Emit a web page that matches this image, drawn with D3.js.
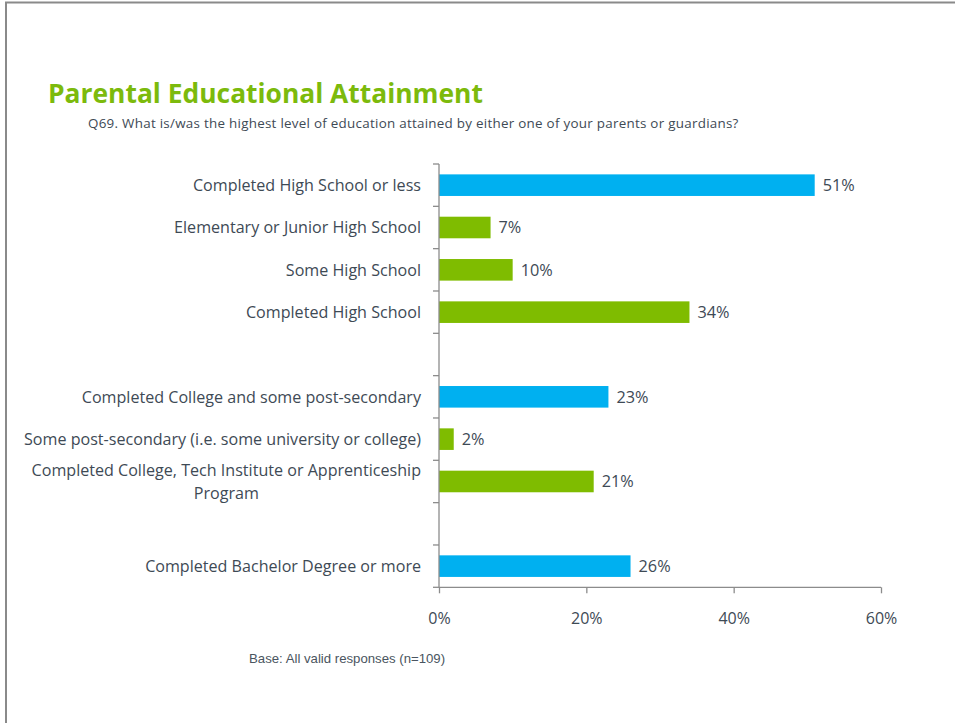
<!DOCTYPE html>
<html><head><meta charset="utf-8">
<script src="https://cdn.jsdelivr.net/npm/d3@7"></script>
<style>
body{margin:0;background:#fff;}
svg{display:block;}
</style></head>
<body>
<svg id="chart" width="955" height="723"></svg>
<script>
const categories = [
  "Completed High School or less",
  "Elementary or Junior High School",
  "Some High School",
  "Completed High School",
  "",
  "Completed College and some post-secondary",
  "Some post-secondary (i.e. some university or college)",
  "Completed College, Tech Institute or Apprenticeship|Program",
  " ",
  "Completed Bachelor Degree or more"
];
const values = [51, 7, 10, 34, null, 23, 2, 21, null, 26];
const isSummary = [true, false, false, false, false, true, false, false, false, true];
const tickValues = [0, 20, 40, 60];

const svg = d3.select("#chart");
const colors = {blue:"#00b0f0", green:"#7fbc00", axis:"#8c8c8c", text:"#3e4a55"};
const labelSize = 16.1;

// frame
svg.append("line").attr("x1",5).attr("x2",955).attr("y1",2.5).attr("y2",2.5).attr("stroke","#8a8a8a").attr("stroke-width",2);
svg.append("line").attr("x1",6).attr("x2",6).attr("y1",2).attr("y2",723).attr("stroke","#8a8a8a").attr("stroke-width",2);

svg.append("text").attr("x",48).attr("y",103)
  .attr("font-family","Open Sans").attr("font-weight","bold").attr("font-size",26.4)
  .attr("fill","#7cba0c").text("Parental Educational Attainment");
svg.append("text").attr("x",88).attr("y",128)
  .attr("font-family","Open Sans").attr("font-size",13.4).attr("letter-spacing",0.27)
  .attr("fill","#3e4a55").text("Q69. What is/was the highest level of education attained by either one of your parents or guardians?");

const x = d3.scaleLinear().domain([0,60]).range([439,881]);
const y = d3.scaleBand().domain(categories).range([164,587.3]).paddingInner(0.49).paddingOuter(0.245);

// bars
const idx = d3.range(categories.length).filter(i => values[i] != null);
svg.selectAll("rect.bar").data(idx).join("rect")
  .attr("x", x(0)).attr("y", i => y(categories[i]))
  .attr("width", i => x(values[i]) - x(0)).attr("height", y.bandwidth())
  .attr("fill", i => isSummary[i] ? colors.blue : colors.green);

svg.selectAll("text.val").data(idx).join("text")
  .attr("x", i => x(values[i]) + 8).attr("y", i => y(categories[i]) + y.bandwidth()/2 + 6)
  .attr("font-family","Open Sans").attr("font-size",16.3).attr("fill",colors.text)
  .text(i => values[i] + "%");

// y axis line + ticks
const g = svg.append("g");
g.append("line").attr("x1",439).attr("x2",439).attr("y1",164).attr("y2",587.3).attr("stroke",colors.axis).attr("stroke-width",1.3);
const boundaries = d3.range(categories.length+1).map(i => 164 + i*(423.3/categories.length));
g.selectAll("line.yt").data(boundaries).join("line")
  .attr("x1",433).attr("x2",439).attr("y1",d=>d).attr("y2",d=>d).attr("stroke",colors.axis).attr("stroke-width",1.3);

// x axis
const xAxis = d3.axisBottom(x).tickValues(tickValues).tickSize(6).tickFormat(d => d + "%");
const xg = svg.append("g").attr("transform","translate(0,587.3)").call(xAxis);
xg.select(".domain").attr("stroke",colors.axis).attr("stroke-width",1.3).attr("d","M439,0H881");
xg.selectAll(".tick line").attr("stroke",colors.axis).attr("stroke-width",1.3);
xg.selectAll(".tick text").attr("y",25).attr("font-family","Open Sans").attr("font-size",16).attr("fill",colors.text);

// category labels
categories.forEach((c,i) => {
  if (!c.trim()) return;
  const lines = c.split("|");
  const cy = y(c) + y.bandwidth()/2;
  const lh = 23;
  if (lines.length === 1) {
    svg.append("text").attr("x",421).attr("y",cy+6).attr("text-anchor","end")
      .attr("font-family","Open Sans").attr("font-size",labelSize).attr("fill",colors.text).text(c);
  } else {
    const t = svg.append("text").attr("font-family","Open Sans").attr("font-size",labelSize).attr("fill",colors.text);
    t.append("tspan").attr("x",421).attr("y",cy - lh/2 + 6).attr("text-anchor","end").text(lines[0]);
    const w = t.node().getComputedTextLength();
    svg.append("text").attr("x",421 - w/2).attr("y",cy + lh/2 + 6).attr("text-anchor","middle")
      .attr("font-family","Open Sans").attr("font-size",labelSize).attr("fill",colors.text).text(lines[1]);
  }
});

svg.append("text").attr("x",249).attr("y",663)
  .attr("font-family","Liberation Sans").attr("font-size",13.2).attr("fill","#4a5560")
  .text("Base: All valid responses (n=109)");
</script>
</body></html>
